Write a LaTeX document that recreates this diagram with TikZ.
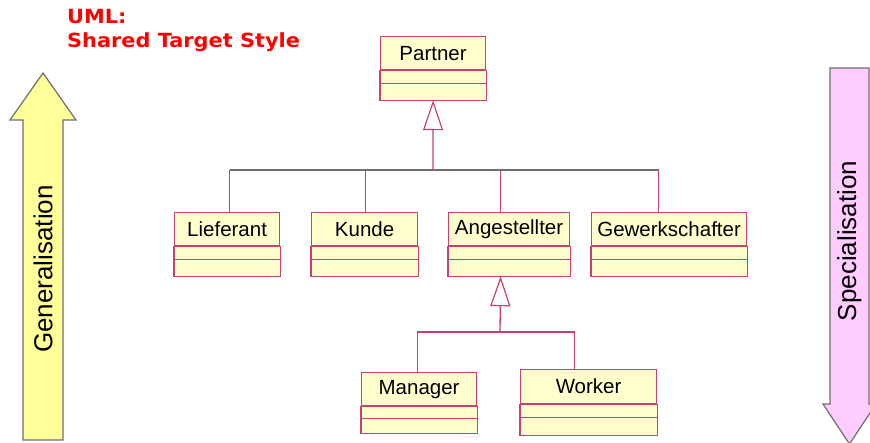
\documentclass[tikz,border=0pt]{standalone}
\usepackage{fontspec}
\setmainfont{Liberation Sans}
\newfontfamily\titlefont{DejaVu Sans}
\usetikzlibrary{arrows.meta,positioning}

\definecolor{clsline}{RGB}{200,64,112}
\definecolor{clsfill}{RGB}{255,255,206}
\definecolor{barline}{RGB}{112,112,112}
\definecolor{genfill}{RGB}{255,255,153}
\definecolor{specfill}{RGB}{255,204,255}
\definecolor{arrowline}{RGB}{110,110,110}
\definecolor{titlered}{RGB}{255,0,0}

\tikzset{
  cls/.style={draw=clsline, fill=clsfill, line width=1.2pt, inner sep=0pt,
    anchor=north west, minimum height=33pt, font=\fontsize{20.5}{24}\selectfont},
  clsrow/.style={draw=clsline, fill=clsfill, line width=1.2pt},
  link/.style={draw=clsline, line width=1.3pt},
  bar/.style={draw=barline, line width=1.8pt},
  genhead/.style={-{Triangle[open, length=30pt, width=20pt, line width=1.2pt]}},
  bigarrow/.style={draw=arrowline, line width=1.2pt, line join=miter},
  arrowtext/.style={rotate=90, font=\fontsize{26}{30}\selectfont}
}

% the two empty compartments under a class name, and its bottom point
\newcommand{\clsrows}[3]{%
  \draw[clsrow] (#1.south west) rectangle ([yshift=-#2pt]#1.south east);
  \draw[clsrow] ([yshift=-#2pt]#1.south west) rectangle ([yshift={-(#2+#3)*1pt}]#1.south east);
  \coordinate (#1-bot) at ([yshift={-(#2+#3)*1pt}]#1.south);
}

\begin{document}
\begin{tikzpicture}[x=1pt, y=-1pt]
    \useasboundingbox (0,0) rectangle (870,442);
    %title
    \node[anchor=north west, align=left, inner sep=0pt, text=titlered,
      font=\titlefont\bfseries\fontsize{19.5}{24}\selectfont] (title) at (67,9)
      {\scalebox{1.07}[1]{UML:}\\\scalebox{1.07}[1]{Shared Target Style}};
    %big arrows
    \filldraw[bigarrow, fill=genfill] (43,73) -- (76,120) -- (63,120) -- (63,440)
      -- (23,440) -- (23,120) -- (10,120) -- cycle;
    \node[arrowtext] (gentext) at (43,269) {Generalisation};
    \filldraw[bigarrow, fill=specfill] (830,68) -- (869,68) -- (869,404) -- (876,404)
      -- (849.5,444) -- (823,404) -- (830,404) -- cycle;
    \node[arrowtext] (spectext) at (849.5,241) {Specialisation};
    %classes
    \node[cls, minimum width=105pt] (partner) at (380,36) {Partner};
    \clsrows{partner}{13}{17}
    \node[cls, minimum width=105pt] (lief) at (174,212) {Lieferant};
    \clsrows{lief}{13}{17}
    \node[cls, minimum width=106pt] (kunde) at (311,212) {Kunde};
    \clsrows{kunde}{13}{17}
    \node[cls, minimum width=121pt] (ang) at (448,212) {Angestellter};
    \clsrows{ang}{13}{17}
    \node[cls, minimum width=155pt] (gew) at (591,212) {Gewerkschafter};
    \clsrows{gew}{13}{17}
    \node[cls, minimum width=115pt] (manager) at (361,372) {Manager};
    \clsrows{manager}{12}{15}
    \node[cls, minimum width=136pt, minimum height=34pt] (worker) at (520,369) {Worker};
    \clsrows{worker}{13}{18}
    %generalisation to Partner
    \coordinate (hub) at (433,170);
    \draw[bar] ([xshift=2.5pt]lief.north |- hub) -- ([xshift=-10.5pt]gew.north |- hub);
    \foreach \cl/\dx in {lief/2.5, kunde/1, ang/-8.5, gew/-10.5}
      \draw[link] ([xshift=\dx pt]\cl.north) -- ([xshift=\dx pt]\cl.north |- hub);
    \draw[link, genhead] (hub) -- (partner-bot);
    %generalisation to Angestellter
    \coordinate (hubb) at (500,332);
    \draw[link] ([xshift=-1.5pt]manager.north) |- (hubb) -| ([xshift=-14pt]worker.north);
    \draw[link, genhead] (hubb) -- ([xshift=-8.5pt]ang-bot);
\end{tikzpicture}
\end{document}
